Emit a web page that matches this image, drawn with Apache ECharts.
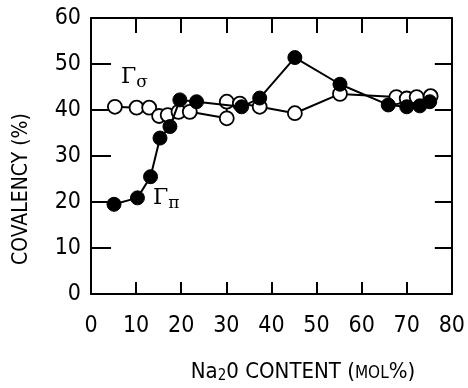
<!DOCTYPE html>
<html>
<head>
<meta charset="utf-8">
<script src="https://cdn.jsdelivr.net/npm/echarts@6/dist/echarts.min.js"></script>
<style>
  html, body { margin: 0; padding: 0; background: #fff; }
  #chart { width: 468px; height: 388px; }
</style>
</head>
<body>
<div id="chart"></div>
<script>
// Na2O content (mol%) and covalency (%)
const sigmaX = [5.3, 10.1, 12.9, 15.1, 17.0, 19.4, 21.9, 30.1, 30.1, 33.0, 37.4, 45.2, 55.2, 67.7, 70.0, 72.2, 75.3];
const sigmaY = [40.7, 40.5, 40.5, 38.7, 38.9, 39.6, 39.6, 38.2, 41.8, 41.4, 40.7, 39.3, 43.5, 42.8, 42.5, 42.8, 43.0];
const piX = [5.1, 10.3, 13.2, 15.3, 17.5, 19.7, 23.4, 33.4, 37.4, 45.2, 55.2, 65.9, 70.0, 72.9, 75.1];
const piY = [19.5, 20.9, 25.5, 33.9, 36.4, 42.2, 41.8, 40.7, 42.6, 51.4, 45.6, 41.1, 40.7, 40.9, 41.8];
const xTicks = [0, 10, 20, 30, 40, 50, 60, 70, 80];
const yTicks = [0, 10, 20, 30, 40, 50, 60];

const FONT = '"Liberation Sans Narrow", "DejaVu Sans Condensed", sans-serif';
const pair = (xs, ys) => xs.map((x, i) => [x, ys[i]]);

const chart = echarts.init(document.getElementById("chart"));

const baseAxis = {
  type: "value",
  interval: 10,
  axisLine: { show: true, onZero: false, lineStyle: { color: "#000", width: 2 } },
  axisTick: { show: true, inside: true, length: 15, lineStyle: { color: "#000", width: 2 } },
  splitLine: { show: false },
};

chart.setOption({
  animation: false,
  grid: { left: 91, top: 18, right: 16, bottom: 94 },
  xAxis: [
    {
      ...baseAxis,
      min: xTicks[0],
      max: xTicks[xTicks.length - 1],
      position: "bottom",
      axisTick: { ...baseAxis.axisTick, length: 12 },
      axisLabel: { color: "#000", fontSize: 23, fontFamily: FONT, margin: 21 },
    },
    {
      ...baseAxis,
      min: xTicks[0],
      max: xTicks[xTicks.length - 1],
      position: "top",
      axisLabel: { show: false },
    },
  ],
  yAxis: [
    {
      ...baseAxis,
      min: yTicks[0],
      max: yTicks[yTicks.length - 1],
      position: "left",
      axisTick: { ...baseAxis.axisTick, length: 20 },
      axisLabel: { color: "#000", fontSize: 23, fontFamily: FONT, margin: 10 },
    },
    {
      ...baseAxis,
      min: yTicks[0],
      max: yTicks[yTicks.length - 1],
      position: "right",
      axisTick: { ...baseAxis.axisTick, length: 17 },
      axisLabel: { show: false },
    },
  ],
  series: [
    {
      name: "sigma",
      type: "line",
      data: pair(sigmaX, sigmaY),
      symbol: "circle",
      symbolSize: 14,
      lineStyle: { color: "#000", width: 2 },
      itemStyle: { color: "#fff", borderColor: "#000", borderWidth: 1.8 },
      z: 2,
    },
    {
      name: "pi",
      type: "line",
      data: pair(piX, piY),
      symbol: "circle",
      symbolSize: 14,
      lineStyle: { color: "#000", width: 2 },
      itemStyle: { color: "#000", borderColor: "#000", borderWidth: 1 },
      z: 3,
    },
  ],
  graphic: [
    {
      type: "text",
      left: 121, top: 66,
      style: {
        text: "{a|Γ}{b|σ}",
        rich: {
          a: { fontSize: 22, fontFamily: "DejaVu Serif, serif", fill: "#000" },
          b: { fontSize: 17, fontFamily: "DejaVu Serif, serif", fill: "#000", verticalAlign: "bottom", padding: [12, 0, 0, 0] },
        },
      },
    },
    {
      type: "text",
      left: 153, top: 187,
      style: {
        text: "{a|Γ}{b|π}",
        rich: {
          a: { fontSize: 22, fontFamily: "DejaVu Serif, serif", fill: "#000" },
          b: { fontSize: 17, fontFamily: "DejaVu Serif, serif", fill: "#000", verticalAlign: "bottom", padding: [12, 0, 0, 0] },
        },
      },
    },
    {
      type: "text",
      x: 22, y: 189,
      rotation: Math.PI / 2,
      style: {
        text: "COVALENCY (%)",
        fontSize: 21, fontFamily: FONT, fill: "#000",
        align: "center", verticalAlign: "middle",
      },
    },
    {
      type: "text",
      x: 303, y: 372,
      style: {
        text: "{n|Na}{s|2}{n|0 CONTENT (}{m|MOL}{n|%)}",
        align: "center", verticalAlign: "middle",
        rich: {
          n: { fontSize: 22, fontFamily: FONT, fill: "#000" },
          s: { fontSize: 15, fontFamily: FONT, fill: "#000", padding: [9, 0, 0, 0] },
          m: { fontSize: 17, fontFamily: FONT, fill: "#000", padding: [3, 0, 0, 0] },
        },
      },
    },
  ],
});
</script>
</body>
</html>
